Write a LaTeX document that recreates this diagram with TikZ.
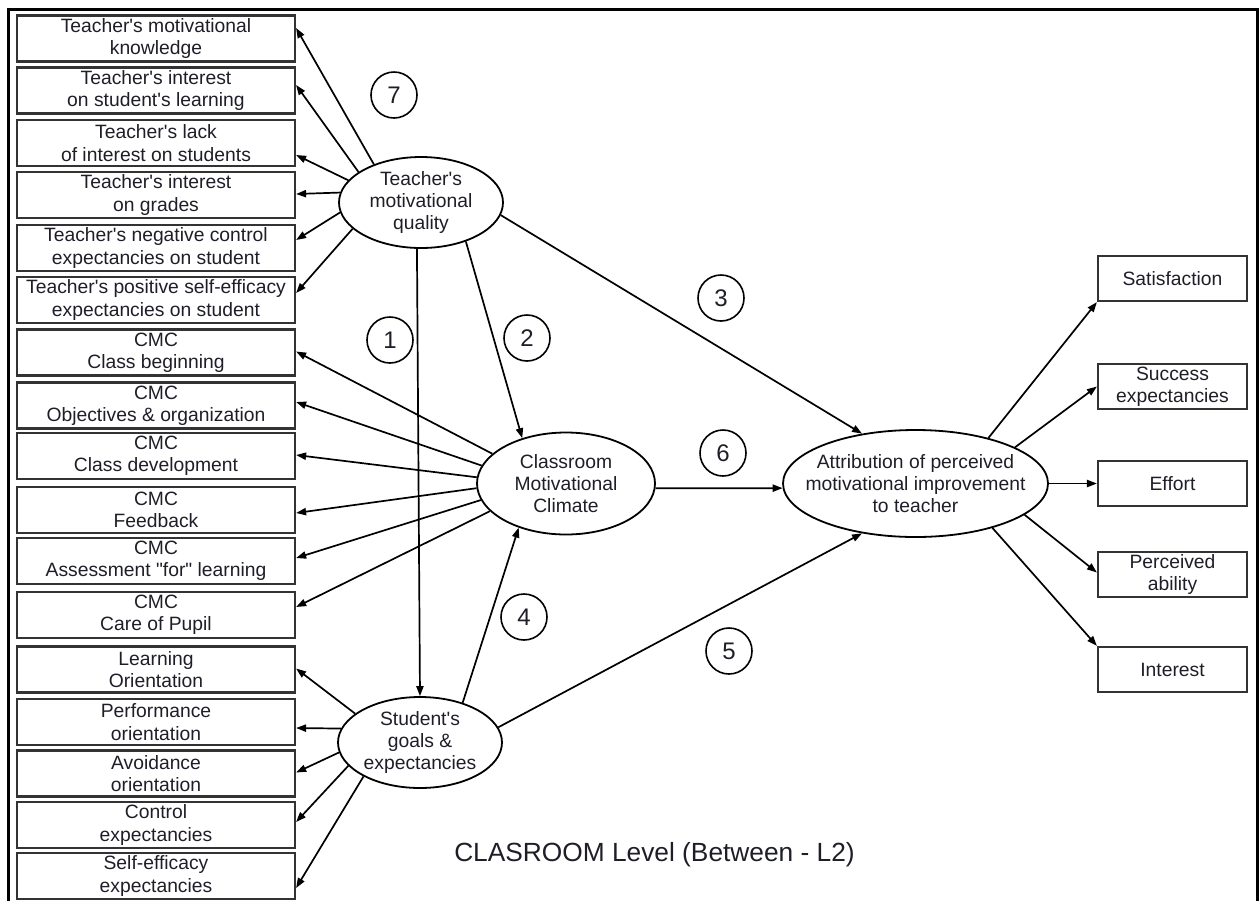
\documentclass[tikz,border=0pt]{standalone}
\usepackage{fontspec}
\setmainfont{Liberation Sans}[Ligatures=TeXOff]
\usetikzlibrary{arrows.meta,shapes.geometric}
\definecolor{boxLine}{HTML}{333333}
\definecolor{inkText}{HTML}{1E1E28}

\begin{document}
\begin{tikzpicture}[x=0.5pt, y=-0.5pt,
        leftBox/.style={rectangle, draw=boxLine, line width=1.1pt, minimum width=139pt, minimum height=23pt, inner sep=0pt, align=center, text=inkText, font=\fontsize{9.65}{11.2}\selectfont},
        rightBox/.style={leftBox, minimum width=74.5pt, minimum height=22.5pt},
        latentVar/.style={ellipse, draw=black, line width=0.9pt, inner xsep=-20pt, inner ysep=-8pt, align=center, text=inkText, font=\fontsize{9.65}{11.2}\selectfont},
        pathNum/.style={circle, draw=black, line width=0.8pt, minimum size=23pt, inner sep=0pt, text=inkText, font=\fontsize{12}{14}\selectfont},
        arrowStyle/.style={-{Triangle[length=5pt,width=3.6pt]}, line width=0.85pt}
    ]
        \useasboundingbox (0,0) rectangle (1260,901);
        % Frame
        \draw[line width=1.5pt] (8,901) -- (8,9) -- (1257,9) -- (1257,901);

        % Teacher indicators
        \node[leftBox] (tKnow) at (156,38.5) {Teacher's motivational\\knowledge};
        \node[leftBox] (tLearn) at (156,90.5) {Teacher's interest\\on student's learning};
        \node[leftBox] (tLack) at (156,143) {Teacher's lack\\of interest on students};
        \node[leftBox] (tGrades) at (156,195) {Teacher's interest\\on grades};
        \node[leftBox] (tNegCtrl) at (156,248) {Teacher's negative control\\expectancies on student};
        \node[leftBox] (tSelfEff) at (156,300) {Teacher's positive self-efficacy\\expectancies on student};

        % Climate indicators
        \node[leftBox] (cBegin) at (156,352.5) {CMC\\Class beginning};
        \node[leftBox] (cObj) at (156,405.5) {CMC\\Objectives \& organization};
        \node[leftBox] (cDev) at (156,456) {CMC\\Class development};
        \node[leftBox] (cFeed) at (156,510) {CMC\\Feedback};
        \node[leftBox] (cAssess) at (156,561) {CMC\\Assessment "for" learning};
        \node[leftBox] (cCare) at (156,615) {CMC\\Care of Pupil};

        % Student indicators
        \node[leftBox] (sLearn) at (156,669.5) {Learning\\Orientation};
        \node[leftBox] (sPerf) at (156,722) {Performance\\orientation};
        \node[leftBox] (sAvoid) at (156,773.5) {Avoidance\\orientation};
        \node[leftBox] (sCtrl) at (156,825) {Control\\expectancies};
        \node[leftBox] (sSelfEff) at (156,876) {Self-efficacy\\expectancies};

        % Latent variables
        \node[latentVar, minimum width=82pt, minimum height=45.5pt] (tmq) at (421,202.5) {Teacher's\\motivational\\quality};
        \node[latentVar, minimum width=89pt, minimum height=51pt] (cmc) at (566,483.5) {Classroom\\Motivational\\Climate};
        \node[latentVar, minimum width=82pt, minimum height=45.5pt] (sge) at (420,742.5) {Student's\\goals \&\\expectancies};
        \node[latentVar, minimum width=132.5pt, minimum height=53.5pt] (attr) at (915.5,483.5) {Attribution of perceived\\motivational improvement\\to teacher};

        % Outcomes
        \node[rightBox] (oSatisf) at (1172.5,278.5) {Satisfaction};
        \node[rightBox] (oSuccess) at (1172.5,386.5) {Success\\expectancies};
        \node[rightBox] (oEffort) at (1172.5,483.5) {Effort};
        \node[rightBox] (oAbility) at (1172.5,574.5) {Perceived\\ability};
        \node[rightBox] (oInterest) at (1172.5,669.5) {Interest};

        % Path numbers
        \node[pathNum] (n1) at (390,340) {1};
        \node[pathNum] (n2) at (527,338) {2};
        \node[pathNum] (n3) at (721,298) {3};
        \node[pathNum] (n4) at (524,617) {4};
        \node[pathNum] (n5) at (729,651) {5};
        \node[pathNum] (n6) at (723,453) {6};
        \node[pathNum] (n7) at (394,95) {7};

        \node[text=inkText, font=\fontsize{13.15}{15}\selectfont] (caption) at (654.5,855) {CLASROOM Level (Between - L2)};

        % Teacher -> indicators
        \draw[arrowStyle] (tmq.141) -- ([yshift=5.25pt]tKnow.east);
        \draw[arrowStyle] (tmq.154) -- ([yshift=2.75pt]tLearn.east);
        \draw[arrowStyle] (tmq.163) -- ([yshift=-6pt]tLack.east);
        \draw[arrowStyle] (tmq.173) -- ([yshift=0.5pt]tGrades.east);
        \draw[arrowStyle] (tmq.187) -- ([yshift=4pt]tNegCtrl.east);
        \draw[arrowStyle] (tmq.201) -- ([yshift=3.5pt]tSelfEff.east);

        % Climate -> indicators
        \draw[arrowStyle] (cmc.158) -- ([yshift=0.5pt]cBegin.east);
        \draw[arrowStyle] (cmc.168) -- ([yshift=1.75pt]cObj.east);
        \draw[arrowStyle] (cmc.176) -- ([yshift=0.5pt]cDev.east);
        \draw[arrowStyle] (cmc.183) -- ([yshift=-1.5pt]cFeed.east);
        \draw[arrowStyle] (cmc.191) -- ([yshift=1.5pt]cAssess.east);
        \draw[arrowStyle] (cmc.200) -- ([yshift=4pt]cCare.east);

        % Student -> indicators
        \draw[arrowStyle] (sge.156) -- ([yshift=0.5pt]sLearn.east);
        \draw[arrowStyle] (sge.170) -- ([yshift=-3pt]sPerf.east);
        \draw[arrowStyle] (sge.187) -- ([yshift=0.5pt]sAvoid.east);
        \draw[arrowStyle] (sge.198) -- ([yshift=1.5pt]sCtrl.east);
        \draw[arrowStyle] (sge.211) -- ([yshift=-6pt]sSelfEff.east);

        % Structural paths
        \draw[arrowStyle] (tmq.265) -- (sge.north);
        \draw[arrowStyle] (tmq.319) -- (cmc.134);
        \draw[arrowStyle] (tmq.351) -- (attr.137);
        \draw[arrowStyle] (sge.43) -- (cmc.223);
        \draw[arrowStyle] (sge.11) -- (attr.223);
        \draw[arrowStyle] (cmc.357) -- (attr.182);

        % Attribution -> outcomes
        \draw[arrowStyle] (attr.32) -- (oSatisf.south west);
        \draw[arrowStyle] (attr.20) -- (oSuccess.west);
        \draw[arrowStyle] (attr.east) -- (oEffort.west);
        \draw[arrowStyle] (attr.344) -- ([yshift=1pt]oAbility.west);
        \draw[arrowStyle] (attr.330) -- (oInterest.north west);
    \end{tikzpicture}
\end{document}
